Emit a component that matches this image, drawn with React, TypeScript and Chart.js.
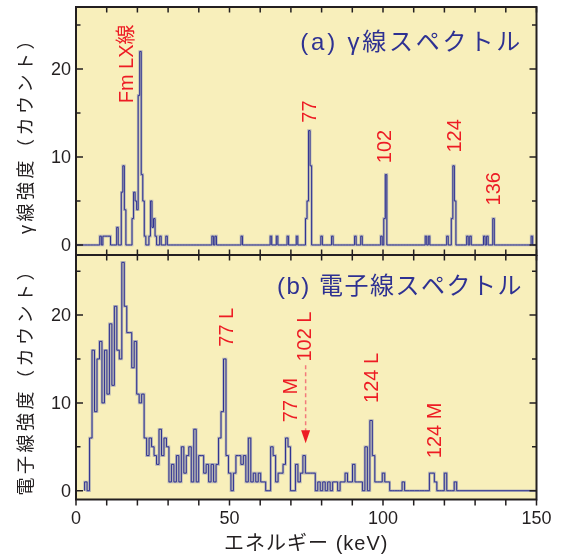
import React, { useEffect, useRef } from "react";
import { Chart, registerables } from "chart.js";
Chart.register(...registerables);

// ---------- data ----------
const X_MIN = 0;
const X_MAX = 150;
const xTickLabels = [0, 50, 100, 150];
const xMinorStep = 10;
const yTickLabels = [0, 10, 20];
const yMinorTicks = [5, 15, 25];

// (a) gamma spectrum: non-zero bins (bin centre in keV, counts), bin width 0.5 keV
const gammaBinWidth = 0.5;
const gammaEnergies = [
  8.5, 9.5, 10, 10.5, 11, 11.5, 14, 15.5, 16, 16.5, 19, 19.5, 20, 20.5, 21, 21.5,
  22, 22.5, 23, 24.5, 25, 25.5, 26, 26.5, 28, 30, 45, 46, 54.5, 64, 66, 69.5, 72.5,
  75.5, 76, 76.5, 77, 80.5, 84, 91.5, 93.5, 100, 101, 101.5, 114.5, 115.5, 121.5,
  123, 123.5, 124, 128, 129, 133.5, 134.5, 136.5, 149,
];
const gammaCounts = [
  1, 1, 1, 1, 1, 1, 2, 6, 9, 4, 3, 6, 5, 4, 17, 22,
  8, 5, 1, 1, 5, 2, 3, 1, 1, 1, 1, 1, 1, 1, 1, 1, 1,
  3, 5, 13, 9, 1, 1, 1, 1, 1, 3, 8, 1, 1, 1,
  3, 9, 5, 1, 1, 1, 1, 3, 1,
];

// (b) electron spectrum: consecutive bins starting at electronStart keV
const electronStart = 2.8;
const electronBinWidth = 0.808;
const electronCounts = [
  0,
  1, 0, 6, 16, 9, 15, 17, 10, 16, 11,
  19, 12, 21, 16, 15, 26, 21, 18, 18, 14,
  17, 11, 10, 11, 6, 4, 6, 5, 4, 3,
  7, 4, 6, 5, 1, 3, 1, 4, 1, 5,
  2, 4, 5, 1, 7, 1, 4, 4, 2, 3,
  1, 3, 1, 3, 6, 9, 15, 4, 2, 0,
  2, 4, 4, 3, 4, 1, 6, 1, 2, 1,
  2, 1, 1, 0, 0, 5, 4, 1, 2, 2,
  3, 6, 5, 0, 0, 3, 1, 2, 4, 2,
  2, 2, 2, 0, 1, 0, 1, 0, 1, 0,
  1, 1, 0, 1, 1, 2, 1, 1, 3, 1,
  1, 1, 0, 5, 0, 8, 4, 1, 1, 1,
  2, 1, 1, 0, 0, 0, 0, 0, 1, 0,
  0, 0, 0, 0, 0, 0, 0, 0, 0, 2,
  2, 1, 0, 0, 0, 2, 0, 0, 0, 1,
];

// annotations: [text, energy (keV), count where text starts]
const gammaLabels: [string, number, number][] = [
  ["Fm LX線", 16.7, 16.1],
  ["77", 76.4, 13.9],
  ["102", 100.8, 9.3],
  ["124", 123.6, 10.5],
  ["136", 136.3, 4.5],
];
const electronLabels: [string, number, number][] = [
  ["77 L", 49.3, 16.4],
  ["77 M", 70.2, 7.8],
  ["102 L", 74.8, 14.7],
  ["124 L", 96.6, 10.0],
  ["124 M", 117.0, 3.7],
];
const arrow102L = { energy: 74.8, from: 14.3, to: 5.4 };

const TITLE_A = "(a) γ線スペクトル";
const TITLE_B = "(b) 電子線スペクトル";
const Y_TITLE_A = "γ線強度（カウント）";
const Y_TITLE_B = "電子線強度（カウント）";
const X_TITLE = "エネルギー (keV)";

// ---------- styles ----------
const FONT = '"Liberation Sans", Arial, "Noto Sans CJK JP", sans-serif';
const BG = "#f8efbb";
const AXIS = "#231f20";
const BLUE = "#2e3192";
const RED = "#ed1c24";

function gammaPoints() {
  const map = new Map<number, number>();
  gammaEnergies.forEach((e, i) => map.set(Math.round(e / gammaBinWidth), gammaCounts[i]));
  const n = Math.round(X_MAX / gammaBinWidth);
  const pts: { x: number; y: number }[] = [{ x: X_MIN, y: map.get(0) || 0 }];
  for (let k = 1; k < n; k++) {
    pts.push({ x: k * gammaBinWidth - gammaBinWidth / 2, y: map.get(k) || 0 });
  }
  pts.push({ x: X_MAX, y: 0 });
  return pts;
}

function electronPoints() {
  const pts = electronCounts.map((c, i) => ({ x: electronStart + i * electronBinWidth, y: c }));
  pts.push({ x: electronStart + electronCounts.length * electronBinWidth, y: 0 });
  pts.push({ x: X_MAX, y: 0 });
  return pts;
}

type PanelOpts = {
  bottom: boolean;
  title: string;
  titleSpacing: string;
  titleY: number;
  yTitle: string;
  labels: [string, number, number][];
};

const panelPlugin = {
  id: "panelDecor",
  beforeDraw(chart: any) {
    const { ctx, chartArea: a } = chart;
    ctx.save();
    ctx.fillStyle = BG;
    ctx.fillRect(a.left, a.top, a.right - a.left, a.bottom - a.top);
    ctx.restore();
  },
  afterDraw(chart: any, _args: any, opts: PanelOpts) {
    const { ctx, chartArea: a, scales } = chart;
    const xs = scales.x;
    const ys = scales.y;
    ctx.save();
    ctx.strokeStyle = AXIS;
    ctx.fillStyle = AXIS;
    // frame
    ctx.lineWidth = 2;
    ctx.strokeRect(a.left, a.top, a.right - a.left, a.bottom - a.top);
    // y ticks
    ctx.lineWidth = 1.5;
    ctx.beginPath();
    const yt = [...yTickLabels.map((v) => [v, 7]), ...yMinorTicks.map((v) => [v, 4.5])];
    for (const [v, len] of yt) {
      const y = ys.getPixelForValue(v);
      ctx.moveTo(a.left, y);
      ctx.lineTo(a.left + len, y);
      ctx.moveTo(a.right, y);
      ctx.lineTo(a.right - len, y);
    }
    // x ticks
    for (let e = X_MIN; e <= X_MAX; e += xMinorStep) {
      const x = xs.getPixelForValue(e);
      ctx.moveTo(x, a.top);
      ctx.lineTo(x, a.top + 5.5);
      if (opts.bottom) {
        ctx.moveTo(x, a.bottom);
        ctx.lineTo(x, a.bottom + 6);
      } else {
        ctx.moveTo(x, a.bottom);
        ctx.lineTo(x, a.bottom - 5.5);
      }
    }
    ctx.stroke();
    // y tick labels
    ctx.font = `18px ${FONT}`;
    ctx.textAlign = "right";
    ctx.textBaseline = "middle";
    for (const v of yTickLabels) {
      ctx.fillText(String(v), a.left - 5, ys.getPixelForValue(v) + 1);
    }
    // x tick labels + x title
    if (opts.bottom) {
      ctx.textAlign = "center";
      for (const v of xTickLabels) {
        ctx.fillText(String(v), xs.getPixelForValue(v), a.bottom + 20);
      }
      ctx.font = `20px ${FONT}`;
      (ctx as any).letterSpacing = "1px";
      ctx.fillText(X_TITLE, (a.left + a.right) / 2, a.bottom + 45);
      (ctx as any).letterSpacing = "0px";
    }
    // y title
    ctx.save();
    ctx.translate(27, (a.top + a.bottom) / 2);
    ctx.rotate(-Math.PI / 2);
    ctx.font = `18px ${FONT}`;
    (ctx as any).letterSpacing = "3.5px";
    ctx.textAlign = "center";
    ctx.textBaseline = "middle";
    ctx.fillText(opts.yTitle, 0, 0);
    ctx.restore();
    // panel title
    ctx.font = `24px ${FONT}`;
    (ctx as any).letterSpacing = opts.titleSpacing;
    ctx.fillStyle = BLUE;
    ctx.textAlign = "right";
    ctx.textBaseline = "middle";
    ctx.fillText(opts.title, 523, a.top + opts.titleY);
    (ctx as any).letterSpacing = "0px";
    // red labels
    ctx.fillStyle = RED;
    ctx.font = `20px ${FONT}`;
    for (const [text, e, v] of opts.labels) {
      ctx.save();
      ctx.translate(xs.getPixelForValue(e), ys.getPixelForValue(v));
      ctx.rotate(-Math.PI / 2);
      ctx.textAlign = "left";
      ctx.textBaseline = "middle";
      ctx.fillText(text, 0, 0);
      ctx.restore();
    }
    if (opts.bottom) {
      const x = xs.getPixelForValue(arrow102L.energy);
      const y0 = ys.getPixelForValue(arrow102L.from);
      const y1 = ys.getPixelForValue(arrow102L.to);
      ctx.strokeStyle = "#f37b7b";
      ctx.lineWidth = 1.5;
      ctx.setLineDash([4, 3]);
      ctx.beginPath();
      ctx.moveTo(x, y0);
      ctx.lineTo(x, y1 - 11);
      ctx.stroke();
      ctx.setLineDash([]);
      ctx.fillStyle = RED;
      ctx.beginPath();
      ctx.moveTo(x - 4.5, y1 - 13);
      ctx.lineTo(x + 4.5, y1 - 13);
      ctx.lineTo(x, y1);
      ctx.closePath();
      ctx.fill();
    }
    ctx.restore();
  },
};

function makeConfig(
  points: { x: number; y: number }[],
  yMin: number,
  yMax: number,
  padding: any,
  opts: PanelOpts
): any {
  return {
    type: "line",
    data: {
      datasets: [
        {
          data: points,
          borderColor: BLUE,
          borderWidth: 1,
          stepped: "after",
          pointRadius: 0,
          fill: false,
        },
        {
          data: points,
          borderColor: "rgba(130,135,175,0.55)",
          borderWidth: 2.6,
          stepped: "after",
          pointRadius: 0,
          fill: false,
        },
      ],
    },
    options: {
      responsive: false,
      maintainAspectRatio: false,
      animation: false,
      layout: { padding },
      plugins: {
        legend: { display: false },
        tooltip: { enabled: false },
        panelDecor: opts,
      },
      scales: {
        x: { type: "linear", min: X_MIN, max: X_MAX, display: false },
        y: { type: "linear", min: yMin, max: yMax, display: false },
      },
    },
    plugins: [panelPlugin],
  };
}

export default function App() {
  const topRef = useRef<HTMLCanvasElement>(null);
  const botRef = useRef<HTMLCanvasElement>(null);

  useEffect(() => {
    const top = new Chart(
      topRef.current!,
      makeConfig(gammaPoints(), -1.14, 27.05, { left: 76, right: 25.5, top: 7, bottom: 1 }, {
        bottom: false,
        title: TITLE_A,
        titleSpacing: "2.8px",
        titleY: 36,
        yTitle: Y_TITLE_A,
        labels: gammaLabels,
      })
    );
    const bot = new Chart(
      botRef.current!,
      makeConfig(electronPoints(), -1.0, 26.84, { left: 76, right: 25.5, top: 0, bottom: 56.5 }, {
        bottom: true,
        title: TITLE_B,
        titleSpacing: "1.5px",
        titleY: 32,
        yTitle: Y_TITLE_B,
        labels: electronLabels,
      })
    );
    return () => {
      top.destroy();
      bot.destroy();
    };
  }, []);

  return (
    <div style={{ position: "fixed", left: 0, top: 0, width: 562, height: 556, background: "#fff" }}>
      <canvas
        ref={topRef}
        width={562}
        height={256}
        style={{ position: "absolute", left: 0, top: 0, width: 562, height: 256 }}
      />
      <canvas
        ref={botRef}
        width={562}
        height={301}
        style={{ position: "absolute", left: 0, top: 255, width: 562, height: 301 }}
      />
    </div>
  );
}
